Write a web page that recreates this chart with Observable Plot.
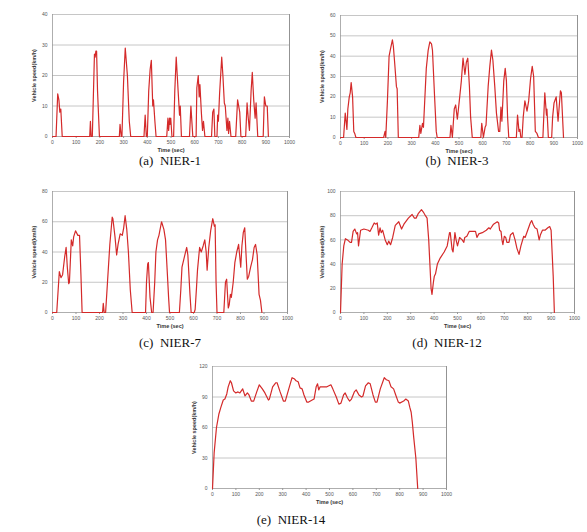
<!DOCTYPE html>
<html><head><meta charset="utf-8">
<script src="https://cdn.jsdelivr.net/npm/d3@7"></script>
<script src="https://cdn.jsdelivr.net/npm/@observablehq/plot@0.6"></script>
<style>
html,body{margin:0;padding:0;background:#fff;}
#wrap{position:relative;width:587px;height:532px;overflow:hidden;}
.panel{position:absolute;}
.cap{position:absolute;font-family:"Liberation Serif",serif;font-size:13px;line-height:15px;color:#111;white-space:pre;transform:translateX(-50%);}
</style></head><body><div id="wrap"></div>
<script>
// Time (sec) / speed (km/h)
const nier1 = [[0,0],[15,0],[22,14],[27,12],[31,8],[35,9],[41,0],[157,0],[160,5],[163,0],[168,0],[172,12],[177,27],[180,26],[183,28],[186,28],[190,15],[198,0],
[282,0],[285,4],[290,0],[293,0],[300,18],[307,29],[316,20],[324,5],[330,0],
[386,0],[391,7],[396,0],[400,0],[406,15],[412,22],[417,25],[423,10],[426,12],[432,5],[437,0],
[482,0],[487,6],[490,2],[494,6],[496,4],[499,6],[504,0],[511,0],[516,15],[522,26],[530,15],[536,7],[539,10],[544,0],
[578,0],[584,10],[592,0],[606,0],[609,16],[615,20],[619,13],[622,17],[628,8],[633,2],[637,5],[643,0],
[671,0],[676,8],[681,9],[685,0],[694,0],[697,7],[700,5],[705,14],[714,26],[719,20],[725,11],[729,10],[736,2],[740,6],[743,1],[747,5],[753,0],
[773,0],[781,12],[790,8],[795,0],[815,0],[821,11],[826,6],[831,2],[838,15],[843,21],[849,12],[855,6],[859,11],[866,0],
[889,0],[894,13],[900,10],[906,10],[911,0]];

const nier3 = [[0,0],[13,0],[20,12],[27,4],[31,14],[37,20],[41,22],[45,27],[51,20],[56,3],[60,2],[65,0],
[182,0],[188,3],[191,0],[198,18],[205,40],[210,43],[219,48],[223,45],[229,36],[236,25],[239,24],[244,0],
[330,0],[335,6],[339,2],[346,7],[350,5],[362,34],[370,43],[377,47],[384,46],[388,43],[397,20],[404,3],[408,0],
[462,0],[466,6],[472,0],[480,14],[486,16],[493,9],[503,20],[510,28],[517,39],[525,31],[531,37],[537,39],[544,25],[549,10],[556,0],
[592,0],[596,7],[603,0],[610,5],[614,6],[623,25],[630,35],[637,43],[643,38],[651,25],[658,12],[667,3],[672,3],[677,15],[681,8],[689,28],[695,34],[700,28],[705,10],[710,0],
[742,0],[747,11],[753,3],[757,4],[761,0],[766,0],[771,10],[778,18],[787,13],[794,18],[802,29],[809,35],[815,30],[822,3],[829,2],[835,0],
[854,0],[862,22],[869,11],[871,14],[877,0],[891,0],[895,10],[901,17],[910,20],[918,8],[928,23],[932,22],[941,0]];

const nier7 = [[0,0],[18,0],[29,27],[36,23],[43,25],[52,37],[58,43],[63,30],[69,19],[72,20],[80,48],[86,44],[90,50],[98,54],[108,51],[115,51],[121,25],[126,0],
[213,0],[216,6],[220,0],[226,0],[234,20],[244,45],[254,63],[257,62],[266,50],[273,38],[279,45],[288,52],[297,51],[303,56],[309,64],[316,55],[323,40],[331,15],[339,0],
[396,0],[400,20],[405,32],[408,33],[415,10],[422,0],[428,0],[435,20],[440,40],[447,48],[453,51],[464,60],[474,55],[481,48],[489,25],[494,10],[498,0],
[540,0],[546,15],[551,30],[560,36],[571,43],[576,38],[585,12],[590,0],[603,0],[607,2],[613,17],[617,28],[626,43],[633,40],[641,44],[648,48],[654,40],[658,28],[665,43],[673,54],[682,62],[689,57],[692,58],[696,20],[700,0],
[729,0],[736,20],[741,22],[748,3],[752,5],[757,12],[761,10],[769,20],[776,33],[784,40],[792,45],[801,30],[806,44],[812,53],[818,56],[823,40],[829,22],[835,24],[843,30],[851,35],[858,43],[864,45],[871,38],[879,12],[885,8],[891,0]];

const nier12 = [[0,0],[7,40],[14,55],[21,61],[30,60],[41,58],[47,58],[54,67],[61,69],[69,65],[73,66],[77,55],[86,68],[100,69],[119,68],[126,67],[134,70],[144,74],[151,73],[157,74],[163,64],[169,70],[174,66],[180,68],[191,60],[200,56],[206,59],[214,56],[223,62],[234,72],[249,75],[261,69],[271,73],[290,78],[306,81],[316,78],[323,78],[333,82],[346,85],[354,83],[363,80],[370,78],[377,60],[387,20],[391,15],[397,25],[401,30],[406,32],[414,40],[426,45],[443,50],[456,55],[466,66],[469,66],[477,52],[481,50],[489,66],[494,60],[500,55],[509,62],[520,60],[527,58],[531,62],[540,63],[550,67],[577,67],[583,62],[591,65],[606,66],[623,68],[634,70],[640,69],[654,73],[670,75],[676,74],[680,68],[686,67],[690,60],[694,56],[700,63],[706,62],[711,58],[720,58],[726,64],[737,66],[746,60],[754,53],[763,48],[771,55],[783,63],[789,62],[800,68],[811,74],[817,76],[823,73],[831,70],[840,69],[849,60],[854,64],[863,68],[874,68],[886,70],[894,71],[900,68],[909,30],[914,0]];

const nier14 = [[0,0],[7,35],[17,60],[27,73],[36,80],[46,87],[53,88],[61,93],[67,100],[76,106],[81,104],[90,96],[99,94],[109,95],[117,94],[129,98],[139,91],[149,94],[156,92],[166,86],[176,86],[189,95],[200,102],[213,98],[224,94],[239,87],[243,88],[257,100],[270,104],[276,104],[289,95],[303,86],[311,86],[326,98],[340,109],[349,108],[357,106],[366,105],[374,99],[383,98],[391,92],[403,85],[411,85],[426,87],[434,88],[443,100],[449,103],[454,97],[460,100],[471,100],[489,100],[506,102],[514,98],[529,90],[540,83],[549,84],[560,92],[567,94],[577,89],[586,86],[594,88],[606,95],[614,97],[626,92],[637,90],[643,91],[654,101],[666,104],[674,103],[686,92],[696,85],[703,85],[717,98],[734,109],[743,107],[754,106],[763,100],[774,98],[783,92],[794,85],[800,84],[817,86],[826,88],[837,86],[843,80],[849,75],[854,65],[860,50],[869,30],[877,0]];

const xTicks = [0,100,200,300,400,500,600,700,800,900,1000];
const yTicks1 = [0,10,20,30,40];
const yTicks3 = [0,10,20,30,40,50,60];
const yTicks7 = [0,20,40,60,80];
const yTicks12 = [0,20,40,60,80,100];
const yTicks14 = [0,30,60,90,120];
const captions = ["(a)  NIER-1","(b)  NIER-3","(c)  NIER-7","(d)  NIER-12","(e)  NIER-14"];

const panels = [
  {data:nier1, yt:yTicks1, box:[52,289,14,136], cap:[170,153]},
  {data:nier3, yt:yTicks3, box:[340,577,15,137], cap:[457,153]},
  {data:nier7, yt:yTicks7, box:[52,287,191,312], cap:[170,335]},
  {data:nier12, yt:yTicks12, box:[340,574,191,312], cap:[447,335]},
  {data:nier14, yt:yTicks14, box:[212,446,366,488], cap:[291,512]}
];

const wrap = document.getElementById("wrap");
const ML=32, MR=8, MT=6, MB=20;
panels.forEach((p,i)=>{
  const [l,r,t,b] = p.box;
  const w = r-l+ML+MR, h = b-t+MT+MB;
  const ymax = p.yt[p.yt.length-1];
  const svg = Plot.plot({
    width:w, height:h, marginLeft:ML, marginRight:MR, marginTop:MT, marginBottom:MB,
    style:{fontFamily:"Arial, 'Liberation Sans', sans-serif", background:"transparent"},
    x:{domain:[0,1000]},
    y:{domain:[0,ymax]},
    marks:[
      Plot.ruleY(p.yt.slice(1), {stroke:"#b8b8b8", strokeWidth:0.8}),
      Plot.ruleX([1000], {stroke:"#777", strokeWidth:0.8}),
      Plot.ruleX([0], {stroke:"#999", strokeWidth:0.8}),
      Plot.ruleY([0], {stroke:"#999", strokeWidth:0.8}),
      Plot.axisX({ticks:xTicks, tickFormat:d=>String(d), tickSize:2, tickPadding:2, fontSize:5, stroke:"#999", color:"#555",
        label:"Time (sec)", labelAnchor:"center", labelArrow:"none", labelOffset:15}),
      Plot.axisY({ticks:p.yt, tickFormat:d=>String(d), tickSize:0, tickPadding:5, fontSize:5, color:"#555",
        label:"Vehicle speed(km/h)", labelAnchor:"center", labelArrow:"none", labelOffset:20}),
      Plot.line(p.data, {x:d=>d[0], y:d=>d[1], stroke:"#d42a2a", strokeWidth:1.2, curve:"linear"})
    ]
  });
  d3.select(svg).selectAll("[aria-label='x-axis label'] text, [aria-label='y-axis label'] text")
    .style("font-weight","bold").style("fill","#333").style("font-size","5.5px");
  const div = document.createElement("div");
  div.className="panel";
  div.style.left=(l-ML)+"px"; div.style.top=(t-MT)+"px";
  div.appendChild(svg);
  wrap.appendChild(div);
  const c = document.createElement("div");
  c.className="cap"; c.textContent=captions[i];
  c.style.left=p.cap[0]+"px"; c.style.top=p.cap[1]+"px";
  wrap.appendChild(c);
});
</script></body></html>
